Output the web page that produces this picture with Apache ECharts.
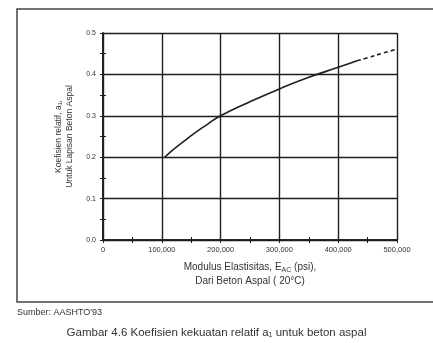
<!DOCTYPE html>
<html>
<head>
<meta charset="utf-8">
<script src="https://cdn.jsdelivr.net/npm/echarts@6/dist/echarts.min.js"></script>
<style>
html,body{margin:0;padding:0;background:#fff;}
#c{width:433px;height:343px;}
</style>
</head>
<body>
<div id="c"></div>
<script>
// Data
var solidX = [105000, 120000, 150000, 175000, 200000, 250000, 300000, 350000, 400000, 432000];
var solidY = [0.200, 0.219, 0.252, 0.277, 0.300, 0.334, 0.365, 0.393, 0.417, 0.433];
var dashX = [432000, 450000, 475000, 500000];
var dashY = [0.433, 0.440, 0.451, 0.461];
var xTickLabels = ['0', '100,000', '200,000', '300,000', '400,000', '500,000'];
var yTickLabels = ['0.0', '0.1', '0.2', '0.3', '0.4', '0.5'];

function pairs(xs, ys) { return xs.map(function (x, i) { return [x, ys[i]]; }); }

var ink = '#1e1e1e';
var txt = '#333';
var font = 'Liberation Sans, Arial, sans-serif';

var chart = echarts.init(document.getElementById('c'), null, {renderer: 'canvas'});
var axisCommon = {
  axisLine: {show: true, lineStyle: {color: ink, width: 1.6}},
  axisTick: {show: true, inside: true, length: 3, lineStyle: {color: ink}},
  minorTick: {show: true, splitNumber: 2, length: 3, lineStyle: {color: ink, width: 1}},
  splitLine: {show: false}
};
chart.setOption({
  backgroundColor: '#fff',
  animation: false,
  textStyle: {fontFamily: font},
  grid: {left: 103, right: 36, top: 33, bottom: 103, containLabel: false, outerBoundsMode: 'none'},
  graphic: [{
    type: 'rect', silent: true,
    shape: {x: 17, y: 9, width: 440, height: 293},
    style: {fill: 'none', stroke: '#444', lineWidth: 1.5}
  }],
  title: [{
    text: "Sumber: AASHTO'93", left: 17, top: 308, padding: 0,
    textStyle: {fontSize: 9, fontWeight: 'normal', color: txt, fontFamily: font}
  }, {
    text: 'Gambar 4.6 Koefisien kekuatan relatif a\u2081 untuk beton aspal', left: 'center', top: 327, padding: 0,
    textStyle: {fontSize: 11.5, fontWeight: 'normal', color: txt, fontFamily: font}
  }],
  xAxis: [Object.assign({}, axisCommon, {
    type: 'value', min: 0, max: 500000, interval: 100000, position: 'bottom',
    splitLine: {show: true, lineStyle: {color: ink, width: 1.4}},
    axisLabel: {fontSize: 7.5, color: txt, margin: 6,
      formatter: function (v) { return xTickLabels[Math.round(v / 100000)]; }},
    name: '{n|Modulus Elastisitas, E}{s|AC}{n| (psi),}\n{n|Dari Beton Aspal ( 20\u00B0C)}',
    nameLocation: 'middle', nameGap: 20,
    nameTextStyle: {color: txt, lineHeight: 14, rich: {
      n: {fontSize: 10, color: txt, lineHeight: 14, fontFamily: font},
      s: {fontSize: 7, color: txt, verticalAlign: 'bottom', padding: [6, 0, 0, 0], lineHeight: 14, fontFamily: font}
    }}
  }), Object.assign({}, axisCommon, {
    type: 'value', min: 0, max: 500000, interval: 100000, position: 'top',
    axisLabel: {show: false}
  })],
  yAxis: [Object.assign({}, axisCommon, {
    type: 'value', min: 0, max: 0.5, interval: 0.1, position: 'left',
    splitLine: {show: true, lineStyle: {color: ink, width: 1.4}},
    axisLabel: {fontSize: 7, color: txt, margin: 7,
      formatter: function (v) { return yTickLabels[Math.round(v * 10)]; }},
    name: 'Koefisien relatif, a\u2081,\nUntuk Lapisan Beton Aspal',
    nameLocation: 'middle', nameGap: 28, nameRotate: 90,
    nameTextStyle: {fontSize: 8.5, color: txt, lineHeight: 11, fontFamily: font}
  }), Object.assign({}, axisCommon, {
    type: 'value', min: 0, max: 0.5, interval: 0.1, position: 'right',
    axisLabel: {show: false}
  })],
  series: [{
    type: 'line', data: pairs(solidX, solidY), smooth: true, symbol: 'none',
    lineStyle: {color: ink, width: 1.6}
  }, {
    type: 'line', data: pairs(dashX, dashY), smooth: true, symbol: 'none',
    lineStyle: {color: ink, width: 1.6, type: [4, 3]}
  }]
});
</script>
</body>
</html>
